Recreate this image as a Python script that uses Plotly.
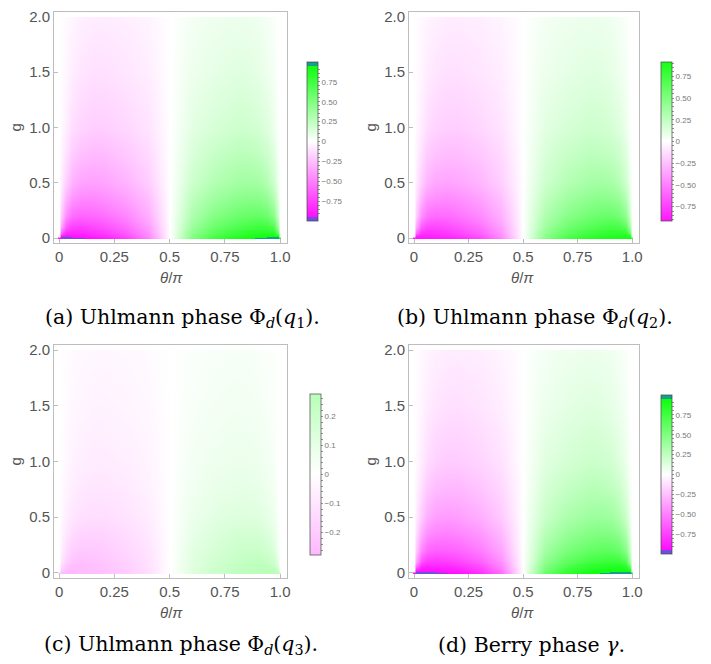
import plotly.graph_objects as go

# ---------------- data ----------------
THETA = [0, 0.01, 0.03, 0.06, 0.1, 0.15, 0.2, 0.3, 0.4, 0.45, 0.5,
         0.55, 0.6, 0.7, 0.8, 0.85, 0.9, 0.94, 0.97, 0.99, 1.0]
G = [0, 0.02, 0.05, 0.1, 0.2, 0.35, 0.5, 0.75, 1.0, 1.5, 2.0]

# (a) Uhlmann phase Phi_d(q1)
Z_A = [
    [-0.90, -0.98, -0.98, -0.97, -0.96, -0.93, -0.89, -0.76, -0.50, -0.26, 0.00, 0.26, 0.50, 0.76, 0.89, 0.93, 0.96, 0.97, 0.98, 0.98, 0.90],
    [0.00, -0.92, -0.94, -0.93, -0.91, -0.88, -0.84, -0.71, -0.47, -0.24, 0.00, 0.24, 0.47, 0.71, 0.84, 0.88, 0.91, 0.93, 0.94, 0.92, 0.00],
    [0.00, -0.60, -0.84, -0.86, -0.85, -0.82, -0.78, -0.66, -0.44, -0.22, 0.00, 0.22, 0.44, 0.66, 0.78, 0.82, 0.85, 0.86, 0.84, 0.60, 0.00],
    [0.00, -0.35, -0.66, -0.75, -0.76, -0.73, -0.69, -0.58, -0.39, -0.20, 0.00, 0.20, 0.39, 0.58, 0.69, 0.73, 0.76, 0.75, 0.66, 0.35, 0.00],
    [0.00, -0.20, -0.45, -0.58, -0.61, -0.60, -0.57, -0.48, -0.32, -0.16, 0.00, 0.16, 0.32, 0.48, 0.57, 0.60, 0.61, 0.58, 0.45, 0.20, 0.00],
    [0.00, -0.12, -0.30, -0.42, -0.47, -0.47, -0.45, -0.38, -0.26, -0.13, 0.00, 0.13, 0.26, 0.38, 0.45, 0.47, 0.47, 0.42, 0.30, 0.12, 0.00],
    [0.00, -0.07, -0.19, -0.30, -0.36, -0.37, -0.36, -0.30, -0.20, -0.10, 0.00, 0.10, 0.20, 0.30, 0.36, 0.37, 0.36, 0.30, 0.19, 0.07, 0.00],
    [0.00, -0.04, -0.12, -0.20, -0.25, -0.27, -0.27, -0.22, -0.15, -0.075, 0.00, 0.075, 0.15, 0.22, 0.27, 0.27, 0.25, 0.20, 0.12, 0.04, 0.00],
    [0.00, -0.02, -0.07, -0.13, -0.17, -0.19, -0.19, -0.16, -0.11, -0.055, 0.00, 0.055, 0.11, 0.16, 0.19, 0.19, 0.17, 0.13, 0.07, 0.02, 0.00],
    [0.00, -0.01, -0.035, -0.07, -0.10, -0.12, -0.12, -0.10, -0.07, -0.035, 0.00, 0.035, 0.07, 0.10, 0.12, 0.12, 0.10, 0.07, 0.035, 0.01, 0.00],
    [0.00, -0.005, -0.02, -0.04, -0.06, -0.07, -0.075, -0.065, -0.045, -0.022, 0.00, 0.022, 0.045, 0.065, 0.075, 0.07, 0.06, 0.04, 0.02, 0.005, 0.00],
]

# (b) Uhlmann phase Phi_d(q2)
Z_B = [
    [-0.85, -0.91, -0.91, -0.90, -0.89, -0.87, -0.84, -0.72, -0.48, -0.25, 0.00, 0.25, 0.48, 0.72, 0.84, 0.87, 0.89, 0.90, 0.91, 0.91, 0.85],
    [0.00, -0.86, -0.89, -0.88, -0.87, -0.84, -0.80, -0.68, -0.45, -0.23, 0.00, 0.23, 0.45, 0.68, 0.80, 0.84, 0.87, 0.88, 0.89, 0.86, 0.00],
    [0.00, -0.58, -0.80, -0.82, -0.81, -0.78, -0.74, -0.63, -0.42, -0.21, 0.00, 0.21, 0.42, 0.63, 0.74, 0.78, 0.81, 0.82, 0.80, 0.58, 0.00],
    [0.00, -0.34, -0.63, -0.72, -0.73, -0.70, -0.66, -0.56, -0.37, -0.19, 0.00, 0.19, 0.37, 0.56, 0.66, 0.70, 0.73, 0.72, 0.63, 0.34, 0.00],
    [0.00, -0.19, -0.43, -0.55, -0.59, -0.58, -0.55, -0.46, -0.31, -0.16, 0.00, 0.16, 0.31, 0.46, 0.55, 0.58, 0.59, 0.55, 0.43, 0.19, 0.00],
    [0.00, -0.12, -0.29, -0.41, -0.45, -0.46, -0.44, -0.37, -0.25, -0.13, 0.00, 0.13, 0.25, 0.37, 0.44, 0.46, 0.45, 0.41, 0.29, 0.12, 0.00],
    [0.00, -0.07, -0.19, -0.29, -0.35, -0.36, -0.35, -0.29, -0.19, -0.10, 0.00, 0.10, 0.19, 0.29, 0.35, 0.36, 0.35, 0.29, 0.19, 0.07, 0.00],
    [0.00, -0.04, -0.12, -0.20, -0.24, -0.26, -0.26, -0.22, -0.15, -0.075, 0.00, 0.075, 0.15, 0.22, 0.26, 0.26, 0.24, 0.20, 0.12, 0.04, 0.00],
    [0.00, -0.02, -0.07, -0.13, -0.17, -0.19, -0.19, -0.16, -0.11, -0.055, 0.00, 0.055, 0.11, 0.16, 0.19, 0.19, 0.17, 0.13, 0.07, 0.02, 0.00],
    [0.00, -0.01, -0.035, -0.07, -0.10, -0.12, -0.12, -0.10, -0.07, -0.035, 0.00, 0.035, 0.07, 0.10, 0.12, 0.12, 0.10, 0.07, 0.035, 0.01, 0.00],
    [0.00, -0.005, -0.02, -0.04, -0.06, -0.07, -0.075, -0.065, -0.045, -0.022, 0.00, 0.022, 0.045, 0.065, 0.075, 0.07, 0.06, 0.04, 0.02, 0.005, 0.00],
]

# (c) Uhlmann phase Phi_d(q3)
Z_C = [
    [-0.20, -0.26, -0.27, -0.27, -0.26, -0.25, -0.24, -0.20, -0.13, -0.065, 0.00, 0.065, 0.13, 0.20, 0.24, 0.25, 0.26, 0.27, 0.27, 0.26, 0.20],
    [0.00, -0.22, -0.26, -0.27, -0.26, -0.25, -0.24, -0.20, -0.13, -0.065, 0.00, 0.065, 0.13, 0.20, 0.24, 0.25, 0.26, 0.27, 0.26, 0.22, 0.00],
    [0.00, -0.15, -0.23, -0.26, -0.26, -0.25, -0.23, -0.19, -0.12, -0.06, 0.00, 0.06, 0.12, 0.19, 0.23, 0.25, 0.26, 0.26, 0.23, 0.15, 0.00],
    [0.00, -0.10, -0.19, -0.23, -0.25, -0.24, -0.22, -0.18, -0.12, -0.06, 0.00, 0.06, 0.12, 0.18, 0.22, 0.24, 0.25, 0.23, 0.19, 0.10, 0.00],
    [0.00, -0.06, -0.14, -0.19, -0.21, -0.21, -0.20, -0.16, -0.11, -0.055, 0.00, 0.055, 0.11, 0.16, 0.20, 0.21, 0.21, 0.19, 0.14, 0.06, 0.00],
    [0.00, -0.04, -0.10, -0.14, -0.17, -0.17, -0.17, -0.14, -0.09, -0.045, 0.00, 0.045, 0.09, 0.14, 0.17, 0.17, 0.17, 0.14, 0.10, 0.04, 0.00],
    [0.00, -0.025, -0.065, -0.10, -0.12, -0.13, -0.13, -0.11, -0.075, -0.037, 0.00, 0.037, 0.075, 0.11, 0.13, 0.13, 0.12, 0.10, 0.065, 0.025, 0.00],
    [0.00, -0.015, -0.045, -0.07, -0.09, -0.10, -0.10, -0.085, -0.055, -0.028, 0.00, 0.028, 0.055, 0.085, 0.10, 0.10, 0.09, 0.07, 0.045, 0.015, 0.00],
    [0.00, -0.008, -0.03, -0.05, -0.065, -0.075, -0.075, -0.065, -0.045, -0.022, 0.00, 0.022, 0.045, 0.065, 0.075, 0.075, 0.065, 0.05, 0.03, 0.008, 0.00],
    [0.00, -0.005, -0.016, -0.03, -0.04, -0.048, -0.05, -0.042, -0.028, -0.014, 0.00, 0.014, 0.028, 0.042, 0.05, 0.048, 0.04, 0.03, 0.016, 0.005, 0.00],
    [0.00, -0.003, -0.01, -0.018, -0.025, -0.03, -0.032, -0.027, -0.018, -0.009, 0.00, 0.009, 0.018, 0.027, 0.032, 0.03, 0.025, 0.018, 0.01, 0.003, 0.00],
]

# (d) Berry phase gamma
Z_D = [
    [-0.92, -0.98, -0.98, -0.98, -0.97, -0.95, -0.93, -0.82, -0.58, -0.30, 0.00, 0.30, 0.58, 0.82, 0.93, 0.95, 0.97, 0.98, 0.98, 0.98, 0.92],
    [0.00, -0.93, -0.94, -0.94, -0.93, -0.92, -0.89, -0.78, -0.55, -0.28, 0.00, 0.28, 0.55, 0.78, 0.89, 0.92, 0.93, 0.94, 0.94, 0.93, 0.00],
    [0.00, -0.62, -0.86, -0.89, -0.88, -0.86, -0.83, -0.72, -0.50, -0.26, 0.00, 0.26, 0.50, 0.72, 0.83, 0.86, 0.88, 0.89, 0.86, 0.62, 0.00],
    [0.00, -0.36, -0.68, -0.78, -0.79, -0.77, -0.74, -0.63, -0.44, -0.22, 0.00, 0.22, 0.44, 0.63, 0.74, 0.77, 0.79, 0.78, 0.68, 0.36, 0.00],
    [0.00, -0.21, -0.47, -0.60, -0.64, -0.63, -0.61, -0.52, -0.36, -0.18, 0.00, 0.18, 0.36, 0.52, 0.61, 0.63, 0.64, 0.60, 0.47, 0.21, 0.00],
    [0.00, -0.13, -0.31, -0.44, -0.49, -0.50, -0.48, -0.41, -0.28, -0.14, 0.00, 0.14, 0.28, 0.41, 0.48, 0.50, 0.49, 0.44, 0.31, 0.13, 0.00],
    [0.00, -0.07, -0.20, -0.31, -0.38, -0.39, -0.38, -0.32, -0.21, -0.11, 0.00, 0.11, 0.21, 0.32, 0.38, 0.39, 0.38, 0.31, 0.20, 0.07, 0.00],
    [0.00, -0.04, -0.12, -0.21, -0.26, -0.28, -0.28, -0.23, -0.16, -0.08, 0.00, 0.08, 0.16, 0.23, 0.28, 0.28, 0.26, 0.21, 0.12, 0.04, 0.00],
    [0.00, -0.02, -0.07, -0.13, -0.18, -0.20, -0.20, -0.17, -0.115, -0.058, 0.00, 0.058, 0.115, 0.17, 0.20, 0.20, 0.18, 0.13, 0.07, 0.02, 0.00],
    [0.00, -0.01, -0.035, -0.07, -0.10, -0.12, -0.125, -0.105, -0.07, -0.035, 0.00, 0.035, 0.07, 0.105, 0.125, 0.12, 0.10, 0.07, 0.035, 0.01, 0.00],
    [0.00, -0.005, -0.02, -0.04, -0.06, -0.07, -0.075, -0.065, -0.045, -0.022, 0.00, 0.022, 0.045, 0.065, 0.075, 0.07, 0.06, 0.04, 0.02, 0.005, 0.00],
]

X_TICKS = [0, 0.25, 0.5, 0.75, 1.0]
X_TICKTEXT = ["0", "0.25", "0.5", "0.75", "1.0"]
Y_TICKS = [0, 0.5, 1.0, 1.5, 2.0]
Y_TICKTEXT = ["0", "0.5", "1.0", "1.5", "2.0"]

CAPTIONS = [
    "(a) Uhlmann phase Φ<sub><i>d</i></sub>(<i>q</i><sub>1</sub>).",
    "(b) Uhlmann phase Φ<sub><i>d</i></sub>(<i>q</i><sub>2</sub>).",
    "(c) Uhlmann phase Φ<sub><i>d</i></sub>(<i>q</i><sub>3</sub>).",
    "(d) Berry phase <i>γ</i>.",
]

# ---------------- styling helpers ----------------
W, H = 711, 664


def col(v):
    if v < 0:
        c = round(255 * (1 + v))
        return f"rgb(255,{c},255)"
    c = round(255 * (1 - v))
    return f"rgb({c},255,{c})"


CAP_LO = "rgb(110,80,220)"
CAP_HI = "rgb(20,160,140)"
SCALE_CLIP = [[0, CAP_LO], [0.025, CAP_LO], [0.025, col(-0.95)], [0.5, "white"],
              [0.975, col(0.95)], [0.975, CAP_HI], [1, CAP_HI]]


def plain_scale(m):
    return [[0, col(-m)], [0.5, "white"], [1, col(m)]]


def cb_ticks(step, lim, labels):
    vals, texts = [], []
    n = int(round(lim / step))
    for i in range(-n, n + 1):
        v = round(i * step, 4)
        vals.append(v)
        texts.append(labels.get(v, ""))
    return vals, texts


LAB_BIG = {0.75: "0.75", 0.5: "0.50", 0.25: "0.25", 0.0: "0",
           -0.25: "−0.25", -0.5: "−0.50", -0.75: "−0.75"}
LAB_C = {0.2: "0.2", 0.1: "0.1", 0.0: "0", -0.1: "−0.1", -0.2: "−0.2"}

panels = [
    # z, zmin, zmax, scale, frame(px: l, r, t, b), cbar (x, top, bottom), ticks
    (Z_A, -1.0, 1.0, SCALE_CLIP, (54, 287, 12, 243), (307, 62, 221), cb_ticks(0.05, 0.9, LAB_BIG)),
    (Z_B, -0.915, 0.915, plain_scale(0.915), (409, 639, 12, 243), (661, 62, 221), cb_ticks(0.05, 0.9, LAB_BIG)),
    (Z_C, -0.277, 0.277, plain_scale(0.277), (54, 287, 345, 578), (310, 394, 555), cb_ticks(0.02, 0.26, LAB_C)),
    (Z_D, -1.0, 1.0, SCALE_CLIP, (409, 639, 345, 578), (661, 395, 554), cb_ticks(0.05, 0.9, LAB_BIG)),
]

XR = [-0.023, 1.031]
YR = [-0.045, 2.045]
GREY = "#555555"

fig = go.Figure()
annotations = []
shapes = []
for i, (z, zmin, zmax, scale, fr, cb, (tv, tt)) in enumerate(panels):
    n = "" if i == 0 else str(i + 1)
    l, r, t, b = fr
    fig.add_trace(go.Heatmap(
        x=THETA, y=G, z=z, zmin=zmin, zmax=zmax, colorscale=scale,
        zsmooth="best", xaxis="x" + n, yaxis="y" + n, hoverinfo="skip",
        colorbar=dict(
            x=cb[0] / W, xanchor="left", xpad=0,
            y=1 - (cb[1] + cb[2]) / 2 / H, yanchor="middle", ypad=0,
            len=cb[2] - cb[1], lenmode="pixels",
            thickness=11, thicknessmode="pixels",
            outlinewidth=1, outlinecolor="rgba(70,70,70,0.7)",
            tickmode="array", tickvals=tv, ticktext=tt,
            ticks="outside", ticklen=2, tickwidth=1, tickcolor="#999999",
            tickfont=dict(family="Liberation Sans, Arial", size=8, color="#777777"),
        ),
    ))
    common = dict(showline=True, mirror=True, linecolor="#bdbdbd", linewidth=1,
                  showgrid=False, zeroline=False, ticks="inside", ticklen=4,
                  tickcolor="#bdbdbd", automargin=False,
                  tickfont=dict(family="Liberation Sans, Arial", size=15, color=GREY))
    fig.update_layout(**{
        "xaxis" + n: dict(domain=[l / W, r / W], range=XR, anchor="y" + n,
                          tickvals=X_TICKS, ticktext=X_TICKTEXT, **common),
        "yaxis" + n: dict(domain=[1 - b / H, 1 - t / H], range=YR, anchor="x" + n,
                          tickvals=Y_TICKS, ticktext=Y_TICKTEXT, **common),
    })
    # white plot-range padding above g = 2
    shapes.append(dict(type="rect", xref="x" + n, yref="y" + n, x0=XR[0], x1=XR[1],
                       y0=2.0, y1=2.04, fillcolor="white", line=dict(width=0), layer="above"))
    # axis titles
    xc = (l + r) / 2 + (1 if i % 2 == 0 else -2)
    annotations.append(dict(text="<i>θ</i>/<i>π</i>", x=xc / W, y=1 - (b + 34) / H,
                            xref="paper", yref="paper", showarrow=False,
                            xanchor="center", yanchor="middle",
                            font=dict(family="Liberation Sans, Arial", size=15, color=GREY)))
    annotations.append(dict(text="g", x=(l - 39) / W, y=1 - (t + b) / 2 / H, textangle=-90,
                            xref="paper", yref="paper", showarrow=False,
                            xanchor="center", yanchor="middle",
                            font=dict(family="Liberation Sans, Arial", size=15, color=GREY)))

cap_pos = [(182, 318), (535, 318), (181, 645), (531, 645)]
for txt, (cx, cy) in zip(CAPTIONS, cap_pos):
    annotations.append(dict(text=txt, x=cx / W, y=1 - cy / H, xref="paper", yref="paper",
                            showarrow=False, xanchor="center", yanchor="middle",
                            font=dict(family="DejaVu Serif", size=20.5, color="black")))

fig.update_layout(width=W, height=H, margin=dict(l=0, r=0, t=0, b=0, autoexpand=False),
                  paper_bgcolor="white", plot_bgcolor="white",
                  annotations=annotations, shapes=shapes, showlegend=False)

fig.write_html("out.html", config={"displayModeBar": False, "staticPlot": True},
               post_script="document.body.style.margin='0px';document.body.style.overflow='hidden';")
